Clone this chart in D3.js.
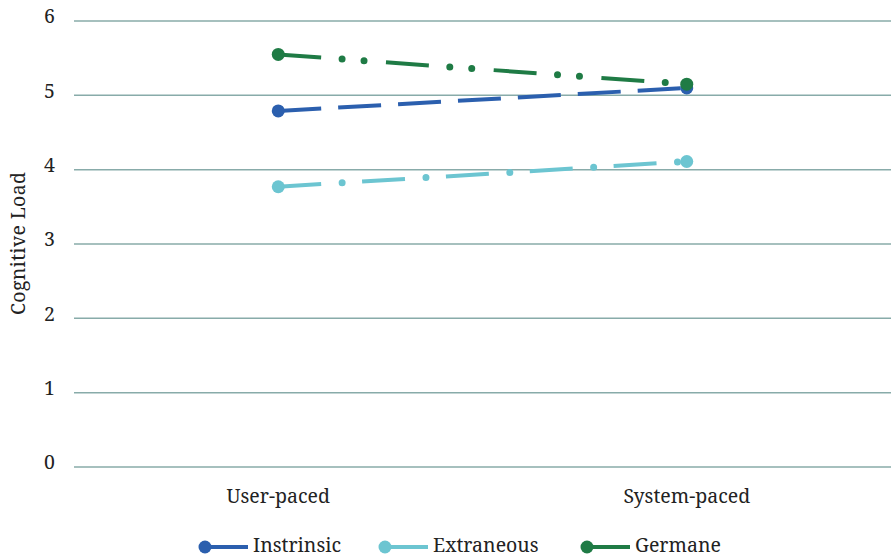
<!DOCTYPE html>
<html>
<head>
<meta charset="utf-8">
<script src="https://cdn.jsdelivr.net/npm/d3@7"></script>
<style>
  html, body { margin: 0; padding: 0; background: #fff; }
  svg { display: block; }
</style>
</head>
<body>
<svg id="chart" width="891" height="558"></svg>
<script>
// Cognitive load by pacing condition
const categories = ["User-paced", "System-paced"];
const seriesNames = ["Instrinsic", "Extraneous", "Germane"];
const intrinsic = [4.79, 5.10];
const extraneous = [3.77, 4.11];
const germane = [5.55, 5.15];
const yTicks = [0, 1, 2, 3, 4, 5, 6];

const FONT = "'Noto Serif', 'Liberation Serif', serif";
const FS = "19.5px";
const TXT = "#222";

const colors = { Instrinsic: "#2b5fae", Extraneous: "#6cc5d1", Germane: "#1f7b45" };
// dash segments (butt caps); dots drawn as a second round-capped stroke
const dashPattern = {
  Instrinsic: "43 17",
  Extraneous: "43 41",
  Germane: "43 65"
};
const dotPattern = {
  Instrinsic: null,
  Extraneous: { array: "0 84", offset: 20 },
  Germane: { array: "0 22 0 86", offset: 44 }
};

const series = [
  { name: "Instrinsic", values: intrinsic },
  { name: "Extraneous", values: extraneous },
  { name: "Germane", values: germane }
];

const svg = d3.select("#chart");
const margin = { left: 74, right: 0, top: 21, bottom: 91 };
const W = 891, H = 558;

const x = d3.scaleBand().domain(categories).range([margin.left, W - margin.right]);
const y = d3.scaleLinear().domain([0, 6]).range([H - margin.bottom, margin.top]);

// horizontal gridlines
svg.append("g").selectAll("line").data(yTicks).join("line")
  .attr("x1", margin.left).attr("x2", W - margin.right)
  .attr("y1", d => y(d)).attr("y2", d => y(d))
  .attr("stroke", "#88aba9").attr("stroke-width", 1.5);

// y axis labels
const yAxis = d3.axisLeft(y).tickValues(yTicks).tickSize(0).tickPadding(0).tickFormat(d3.format("d"));
const gy = svg.append("g").attr("transform", `translate(${margin.left - 19},0)`).call(yAxis)
  .attr("font-family", FONT).attr("font-size", FS);
gy.select(".domain").remove();
gy.selectAll("text").attr("fill", TXT).attr("dy", "0.1em");

// x axis labels
const xAxis = d3.axisBottom(x).tickSize(0).tickPadding(0);
const gx = svg.append("g").attr("transform", `translate(0,${H - margin.bottom + 22})`).call(xAxis)
  .attr("font-family", FONT).attr("font-size", FS);
gx.select(".domain").remove();
gx.selectAll("text").attr("fill", TXT);

// axis title
svg.append("text")
  .attr("transform", `translate(25,243.5) rotate(-90)`)
  .attr("text-anchor", "middle")
  .attr("font-family", FONT).attr("font-size", FS).attr("fill", TXT)
  .attr("textLength", 143).attr("lengthAdjust", "spacing")
  .text("Cognitive Load");

const cx = c => x(c) + x.bandwidth() / 2;
const line = d3.line().x((d, i) => cx(categories[i])).y(d => y(d));

const g = svg.append("g");
series.forEach(s => {
  g.append("path")
    .datum(s.values)
    .attr("d", line)
    .attr("fill", "none")
    .attr("stroke", colors[s.name])
    .attr("stroke-width", 4)
    .attr("stroke-dasharray", dashPattern[s.name]);
  const dp = dotPattern[s.name];
  if (dp) {
    g.append("path")
      .datum(s.values)
      .attr("d", line)
      .attr("fill", "none")
      .attr("stroke", colors[s.name])
      .attr("stroke-width", 7)
      .attr("stroke-linecap", "round")
      .attr("stroke-dasharray", dp.array)
      .attr("stroke-dashoffset", dp.offset);
  }
  g.selectAll(null).data(s.values).join("circle")
    .attr("cx", (d, i) => cx(categories[i]))
    .attr("cy", d => y(d))
    .attr("r", 6.5)
    .attr("fill", colors[s.name]);
});

// legend
const legendX = [205, 385, 587];
const legendY = 547;
const lg = svg.append("g").attr("font-family", FONT).attr("font-size", FS);
series.forEach((s, i) => {
  const item = lg.append("g").attr("transform", `translate(${legendX[i]},${legendY})`);
  item.append("line").attr("x1", 0).attr("x2", 43).attr("y1", 0).attr("y2", 0)
    .attr("stroke", colors[s.name]).attr("stroke-width", 4);
  item.append("circle").attr("cx", 0).attr("cy", 0).attr("r", 6.5).attr("fill", colors[s.name]);
  item.append("text").attr("x", 48).attr("y", 5).attr("fill", TXT).text(s.name);
});
</script>
</body>
</html>
